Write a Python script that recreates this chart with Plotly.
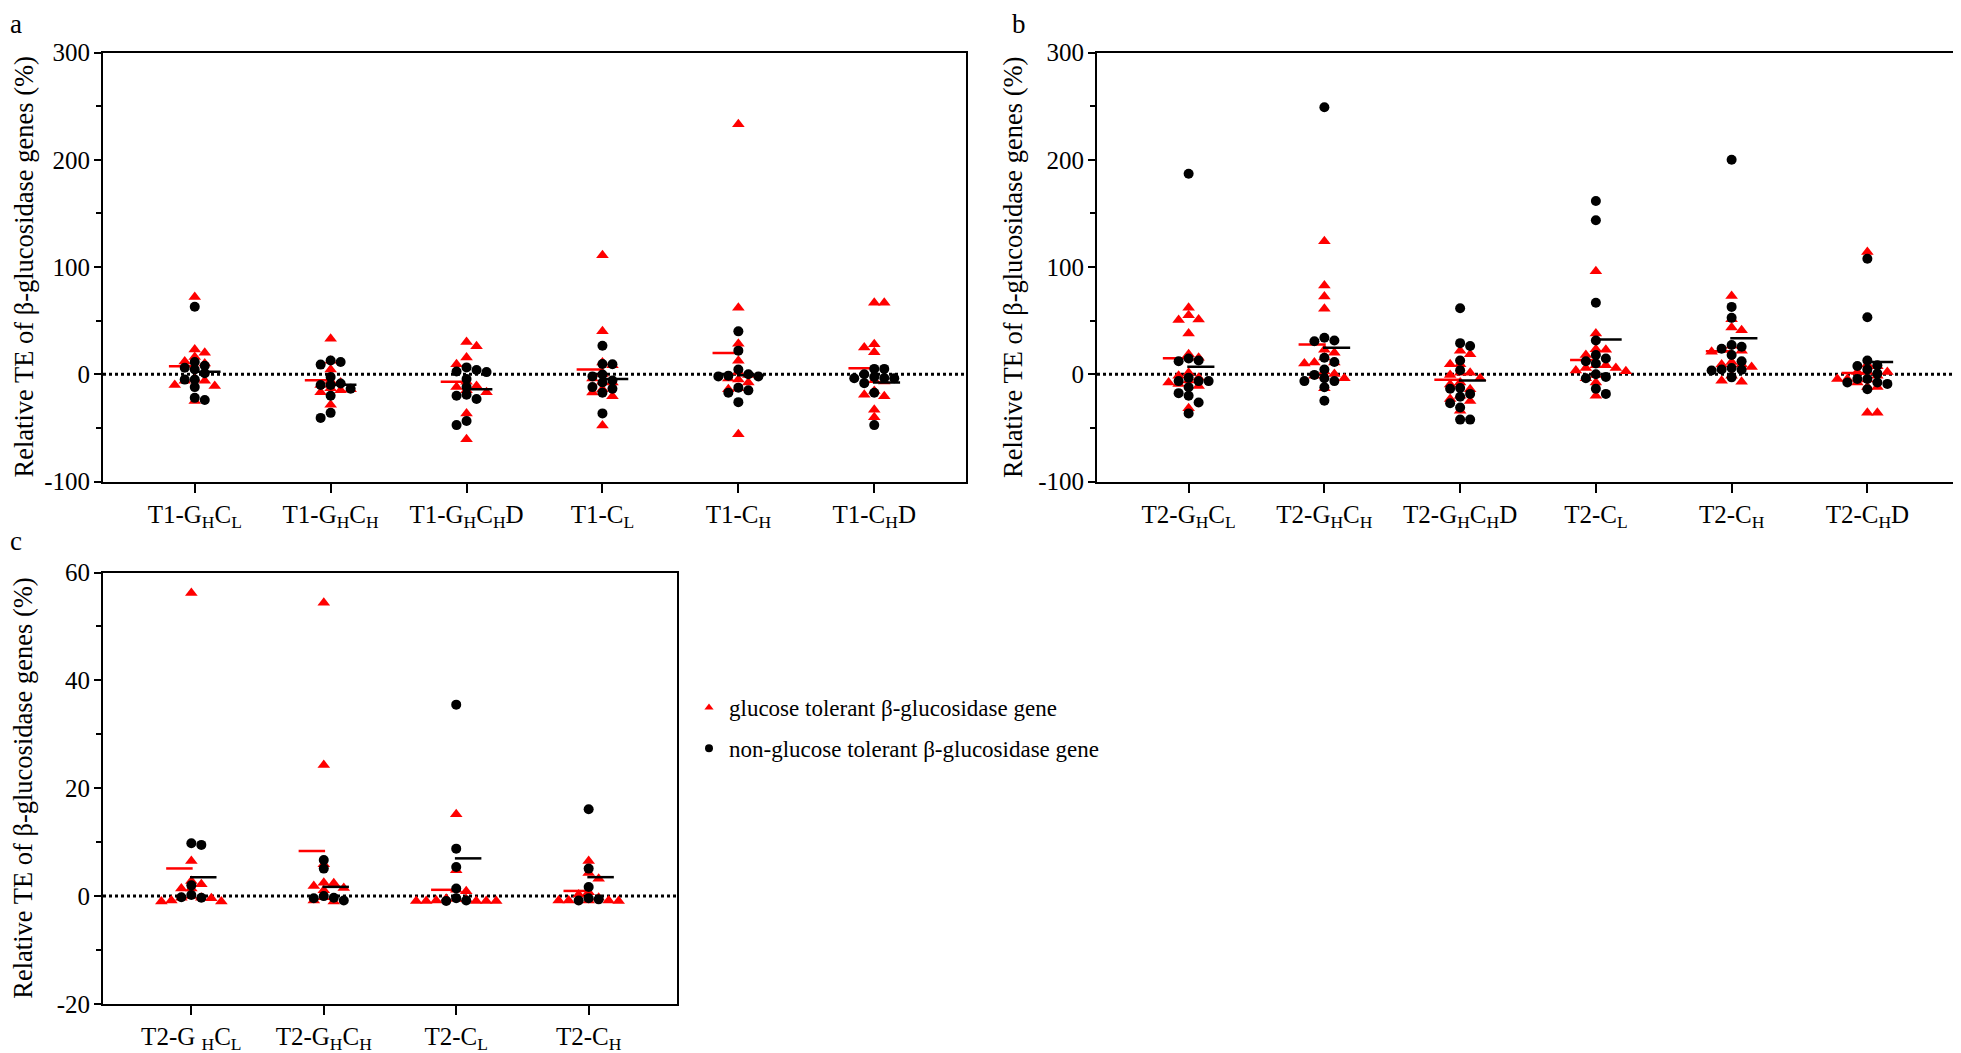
import numpy as np
import plotly.graph_objects as go

# ---------------- data ----------------
A_CATS = ["T1-G<sub>H</sub>C<sub>L</sub>", "T1-G<sub>H</sub>C<sub>H</sub>", "T1-G<sub>H</sub>C<sub>H</sub>D",
          "T1-C<sub>L</sub>", "T1-C<sub>H</sub>", "T1-C<sub>H</sub>D"]
B_CATS = ["T2-G<sub>H</sub>C<sub>L</sub>", "T2-G<sub>H</sub>C<sub>H</sub>", "T2-G<sub>H</sub>C<sub>H</sub>D",
          "T2-C<sub>L</sub>", "T2-C<sub>H</sub>", "T2-C<sub>H</sub>D"]
C_CATS = ["T2-G <sub>H</sub>C<sub>L</sub>", "T2-G<sub>H</sub>C<sub>H</sub>", "T2-C<sub>L</sub>", "T2-C<sub>H</sub>"]

# glucose tolerant (red triangles)
A_RED = [
    [72, 23, 20, 16, 12, 10, -4.5, -6, -6, -10, -11, -25],
    [33, 12.5, 4.5, -6.4, -7.7, -10, -13, -14, -15, -16.7, -28.5],
    [30, 26, 15.7, 9.3, -7, -11, -12, -15, -16.7, -36.5, -60.5],
    [111, 40, 11, 8.3, 0.3, -4, -7, -7.7, -14, -17, -20.5, -47.8],
    [233, 62, 28.5, 12.5, 2, -0.6, -4, -5, -7.7, -13, -14, -56],
    [66.7, 66.7, 28, 25, 20.5, -5.5, -6.7, -15.7, -19, -20.5, -33, -40],
]
# non-glucose tolerant (black circles)
A_BLACK = [
    [63, 11.5, 8, 6, 4.5, 1, -5, -5, -12, -22, -24],
    [12.8, 11.5, 9, -2.6, -8.7, -10, -10, -13.5, -20, -36, -40.7],
    [6.4, 4, 2.6, 2, -4.5, -12, -19, -20, -23, -43.6, -47.4],
    [26.6, 9.6, 9.3, -0.3, -2, -5.8, -7.7, -12, -13.5, -17.3, -36.5],
    [40, 22, 4.5, 0, -1.3, -2, -2, -12.5, -15, -17.3, -26],
    [5, 5, 0, -2.6, -3.5, -3.8, -3.8, -8.3, -17.3, -47.4],
]
B_RED = [
    [62, 55, 51, 50.6, 38, 18.6, 15.4, 1.3, -1.3, -3.2, -5.8, -7.7, -9, -11, -31.7],
    [124, 82.7, 72.4, 61, 22.8, 20, 15.7, 11, 11, 10, 2.6, 0.3, -1.3, -3.8, -13],
    [21.8, 18.6, 9.3, 9.3, 1.3, 1.3, -0.6, -3.8, -7.7, -9.6, -14, -20, -23, -25, -34],
    [96, 38, 23.4, 22.8, 18, 8.3, 8.3, 5.8, 5.8, 3.5, 2.9, -0.6, -3.8, -7.7, -20],
    [73, 51.3, 43.6, 41, 26.6, 22.8, 21.8, 21, 11.5, 9, 9, 6.7, -1.3, -6, -7],
    [114, 9, 7.4, 2, 2, 2, -1.3, -4.5, -4.5, -5, -7.7, -12, -12, -36, -36],
]
B_BLACK = [
    [187, 14.7, 12.8, 12.2, -3.2, -6.4, -6.4, -6.4, -12.2, -17.6, -20, -26.3, -36.5],
    [249, 34, 31.4, 30.8, 15.4, 11.5, 4.5, -0.6, -3.8, -6.4, -6.4, -12.2, -24.7],
    [61.5, 29, 26.3, 12.8, 3.8, -12.8, -13.5, -18.3, -21, -27, -31, -42.3, -42.3],
    [161.5, 143.6, 66.7, 31.4, 18, 14.7, 12.2, 10, 0, -2.6, -3.8, -13.5, -18.3],
    [200, 62.8, 52.6, 27.2, 25.6, 23.7, 18, 12.2, 5.8, 4.5, 4.2, 3.5, -2.9],
    [107.7, 53.2, 12.8, 8.3, 7.7, 4.5, 0.6, -4.5, -4.5, -7.7, -7.7, -9, -14],
]
C_RED = [
    [56.2, 6.5, 2.8, 2.2, 1.4, 1.4, 0, -0.3, -0.3, -0.4, -0.8, -1, -1],
    [54.4, 24.3, 5.9, 2.5, 2.4, 1.9, 1.5, 1.1, -0.2, -0.8, -1],
    [15.2, 4.8, 1.2, 0.9, -0.5, -0.5, -0.6, -0.8, -0.9, -0.9, -0.9, -0.9, -0.9],
    [6.5, 4.3, 3.2, 0.7, 0.3, -0.3, -0.8, -0.8, -0.8, -0.8, -0.9],
]
C_BLACK = [
    [9.8, 9.5, 2, 0.2, -0.2, -0.3],
    [6.7, 5.1, 0, -0.3, -0.4, -0.8],
    [35.5, 8.8, 5.4, 1.4, -0.4, -0.8, -0.9],
    [16.1, 5.1, 1.7, -0.4, -0.6, -0.8],
]
AB_YTICKS = [-100, 0, 100, 200, 300]
AB_YTICKTEXT = ["-100", "0", "100", "200", "300"]
C_YTICKS = [-20, 0, 20, 40, 60]
C_YTICKTEXT = ["-20", "0", "20", "40", "60"]
LEGEND_NAMES = ["glucose tolerant \u03b2-glucosidase gene", "non-glucose tolerant \u03b2-glucosidase gene"]
YTITLE = "Relative TE of \u03b2-glucosidase genes (%)"

# ---------------- layout constants (page pixels) ----------------
VW, VH = 1961, 1053          # browser window
OFF = 8                      # default body margin of the html page
W, H = VW - OFF, VH - OFF
FONT = "Liberation Serif"
RED, BLACK = "#FF0000", "#000000"


def px_x(x):
    return (x - OFF) / W


def px_y(y):
    return 1 - (y - OFF) / H


panels = [
    dict(key="", cats=A_CATS, red=A_RED, black=A_BLACK, ticks=AB_YTICKS, ttext=AB_YTICKTEXT,
         mdt=50, box=(103, 966, 52.5, 481.5), xr=[-0.675, 5.675], letter="a",
         lpos=(9, 8), lanchor="top", tpos=23.5),
    dict(key="2", cats=B_CATS, red=B_RED, black=B_BLACK, ticks=AB_YTICKS, ttext=AB_YTICKTEXT,
         mdt=50, box=(1097, 1959, 52.5, 481.5), xr=[-0.675, 5.675], letter="b",
         lpos=(1011, 8), lanchor="top", tpos=1013),
    dict(key="3", cats=C_CATS, red=C_RED, black=C_BLACK, ticks=C_YTICKS, ttext=C_YTICKTEXT,
         mdt=10, box=(103, 677, 572.5, 1004), xr=[-0.667, 3.667], letter="c",
         lpos=(9, 541), lanchor="middle", tpos=23.5),
]


def swarm(vals, sx, sy, dxm, dym):
    """Deterministic row-style beeswarm; returns horizontal offsets in category units."""
    ys = np.asarray(vals, float) * sy
    order = np.argsort(-ys, kind="stable")
    placed = []
    out = np.zeros(len(ys))
    for i in order:
        y = ys[i]
        near = [px for px, py in placed if abs(py - y) < dym]
        cands = [0.0] + [px + dxm for px in near] + [px - dxm for px in near]
        ok = [c for c in cands if all(abs(c - px) >= dxm - 1e-6 for px in near)]
        bal = sum(np.sign(px) for px, _ in placed)
        pref = -1 if bal > 0 else 1
        best = min(ok, key=lambda c: (round(abs(c), 3), 0 if np.sign(c) == pref else 1))
        placed.append((best, y))
        out[i] = best / sx
    return out


fig = go.Figure()
layout = dict(width=W, height=H, margin=dict(l=0, r=0, t=0, b=0, autoexpand=False),
              paper_bgcolor="white", plot_bgcolor="white",
              font=dict(family=FONT, color="black", size=25), showlegend=True)
shapes, annotations = [], []

for p in panels:
    k = p["key"]
    x0, x1, yt, yb = p["box"]
    n = len(p["cats"])
    xr = p["xr"]
    yr = [p["ticks"][0], p["ticks"][-1]]
    sx = (x1 - x0) / (xr[1] - xr[0])
    sy = (yb - yt) / (yr[1] - yr[0])
    xa, ya = "x" + k, "y" + k
    for series, color, sym, size, moff in [(p["red"], RED, "triangle-up", 11, -0.09),
                                           (p["black"], BLACK, "circle", 10, 0.09)]:
        xs, ys, mx, my = [], [], [], []
        for ci, vals in enumerate(series):
            offs = swarm(vals, sx, sy, 10, 7)
            xs += list(ci + offs)
            ys += list(vals)
            m = float(np.mean(vals))
            mx += [ci + moff - 0.1, ci + moff + 0.1, None]
            my += [m, m, None]
        fig.add_trace(go.Scatter(x=xs, y=ys, mode="markers", xaxis=xa, yaxis=ya,
                                 marker=dict(symbol=sym, size=size, color=color, line=dict(width=0)),
                                 showlegend=False, hoverinfo="skip"))
        fig.add_trace(go.Scatter(x=mx, y=my, mode="lines", xaxis=xa, yaxis=ya,
                                 line=dict(color=color, width=2.5), showlegend=False,
                                 hoverinfo="skip"))
    axis_common = dict(showline=True, mirror=True, linecolor="black", linewidth=2,
                       showgrid=False, zeroline=False, ticks="outside", tickwidth=2,
                       tickcolor="black", tickfont=dict(family=FONT, size=25),
                       automargin=False)
    minor_vals = list(np.arange(yr[0], yr[1] + 1e-9, p["mdt"]))
    layout["xaxis" + k] = dict(axis_common, domain=[px_x(x0), px_x(x1)], range=xr,
                               tickmode="array", tickvals=list(range(n)), ticktext=p["cats"],
                               ticklen=9, anchor=ya)
    layout["yaxis" + k] = dict(axis_common, domain=[px_y(yb), px_y(yt)], range=yr,
                               tickmode="array", tickvals=p["ticks"], ticktext=p["ttext"],
                               ticklen=7, ticklabelstandoff=-1,
                               minor=dict(ticks="outside", tickmode="array", tickvals=minor_vals,
                                          ticklen=5, tickwidth=2, tickcolor="black",
                                          showgrid=False),
                               anchor=xa)
    shapes.append(dict(type="line", xref=xa + " domain", x0=0, x1=1, yref=ya, y0=0, y1=0,
                       line=dict(color="black", width=3, dash="dot"), layer="below"))
    annotations.append(dict(text=p["letter"], xref="paper", yref="paper",
                            x=px_x(p["lpos"][0]), y=px_y(p["lpos"][1]), xanchor="left",
                            yanchor=p["lanchor"], borderpad=0, showarrow=False,
                            font=dict(family=FONT, size=27)))
    annotations.append(dict(text=YTITLE, xref="paper", yref="paper", x=px_x(p["tpos"]),
                            y=px_y((yt + yb) / 2), xanchor="center", yanchor="middle",
                            textangle=-90, showarrow=False, font=dict(family=FONT, size=26.5)))

# legend-only traces
for name, color, sym, grp in [(LEGEND_NAMES[0], RED, "triangle-up", "g1"),
                              (LEGEND_NAMES[1], BLACK, "circle", "g2")]:
    fig.add_trace(go.Scatter(x=[None], y=[None], mode="markers", xaxis="x3", yaxis="y3",
                             name=name, legendgroup=grp,
                             marker=dict(symbol=sym, size=8, color=color)))

layout["legend"] = dict(x=px_x(689), y=px_y(686), xanchor="left", yanchor="top",
                        font=dict(family=FONT, size=23), tracegroupgap=8,
                        bgcolor="rgba(0,0,0,0)", traceorder="grouped")
layout["shapes"] = shapes
layout["annotations"] = annotations
fig.update_layout(**layout)
fig.write_html("out.html")
